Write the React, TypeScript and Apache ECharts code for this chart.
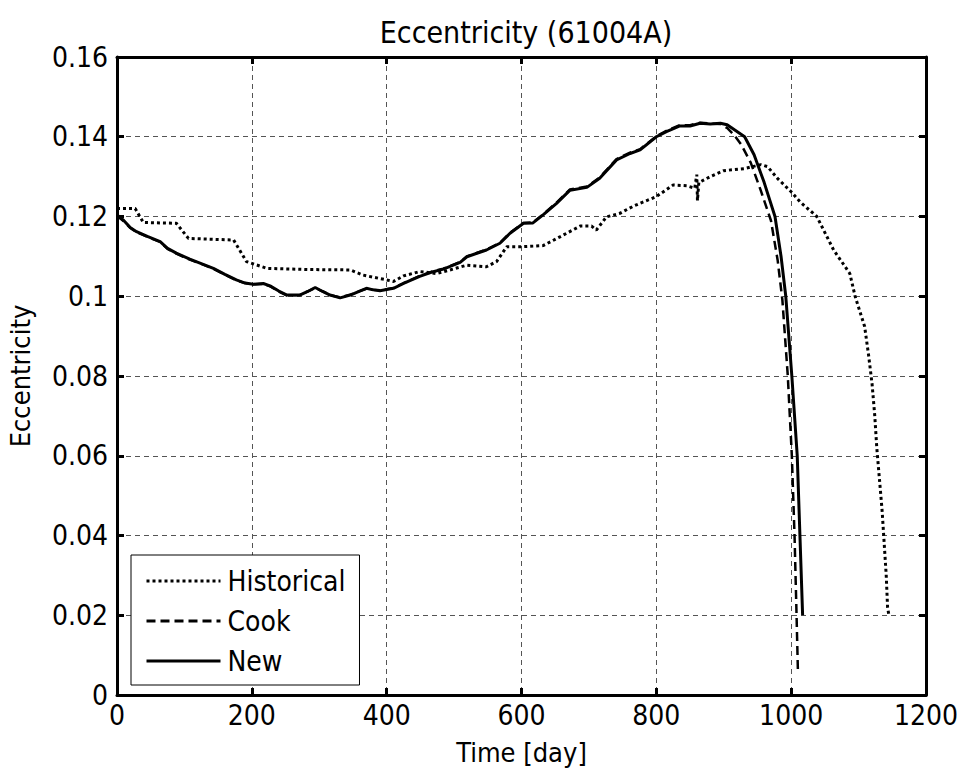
import React, { useEffect, useRef } from "react";
import * as echarts from "echarts";

const xTicks = [0, 200, 400, 600, 800, 1000, 1200];
const yTicks = [0, 0.02, 0.04, 0.06, 0.08, 0.1, 0.12, 0.14, 0.16];

const historicalDays = [0, 27, 39, 88, 106, 173, 192, 222, 286, 346, 365, 400, 410, 425, 449, 474, 494, 519, 548, 563, 578, 598, 632, 657, 687, 704, 711, 726, 746, 766, 800, 825, 845, 857, 860, 861, 863, 880, 900, 930, 955, 965, 980, 1000, 1013, 1038, 1063, 1087, 1095, 1109, 1115, 1120, 1124, 1127, 1131, 1135, 1138, 1141, 1143, 1145];
const historicalEcc = [0.122, 0.122, 0.1185, 0.1183, 0.1145, 0.1141, 0.1087, 0.107, 0.1067, 0.1066, 0.1053, 0.1041, 0.1037, 0.1051, 0.1062, 0.1057, 0.1066, 0.1078, 0.1074, 0.1087, 0.1124, 0.1124, 0.1127, 0.1149, 0.1176, 0.1176, 0.1166, 0.1199, 0.1208, 0.1226, 0.125, 0.1279, 0.1277, 0.1271, 0.1305, 0.124, 0.1285, 0.13, 0.1315, 0.132, 0.133, 0.1325, 0.1295, 0.1262, 0.1237, 0.12, 0.1116, 0.1057, 0.0999, 0.0924, 0.085, 0.078, 0.07, 0.062, 0.054, 0.046, 0.038, 0.03, 0.022, 0.02];

const cookDays = [0, 10, 20, 29, 45, 64, 75, 88, 108, 125, 143, 160, 177, 190, 202, 217, 227, 240, 252, 271, 283, 294, 305, 316, 331, 346, 360, 370, 380, 390, 410, 425, 449, 466, 484, 509, 519, 548, 568, 583, 603, 617, 632, 652, 672, 697, 716, 741, 761, 776, 800, 815, 835, 850, 865, 880, 895, 905, 915, 926, 940, 955, 970, 980, 987, 995, 1001, 1005, 1008, 1010];
const cookEcc = [0.1202, 0.1188, 0.1171, 0.1161, 0.1149, 0.1136, 0.1119, 0.1107, 0.1092, 0.1081, 0.1069, 0.1054, 0.104, 0.1033, 0.103, 0.1031, 0.1025, 0.1012, 0.1002, 0.1003, 0.1012, 0.1021, 0.1012, 0.1003, 0.0997, 0.1004, 0.1013, 0.1019, 0.1016, 0.1015, 0.1021, 0.1033, 0.1051, 0.1061, 0.1069, 0.1086, 0.11, 0.1117, 0.1134, 0.1159, 0.1184, 0.1185, 0.1205, 0.1235, 0.1268, 0.1275, 0.1298, 0.1344, 0.136, 0.1369, 0.1401, 0.1415, 0.1429, 0.1429, 0.1435, 0.1433, 0.1432, 0.1422, 0.1405, 0.138, 0.1335, 0.1265, 0.119, 0.109, 0.099, 0.08, 0.06, 0.04, 0.02, 0.006];

const newDays = [0, 10, 20, 29, 45, 64, 75, 88, 108, 125, 143, 160, 177, 190, 202, 217, 227, 240, 252, 271, 283, 294, 305, 316, 331, 346, 360, 370, 380, 390, 410, 425, 449, 466, 484, 509, 519, 548, 568, 583, 603, 617, 632, 652, 672, 697, 716, 741, 761, 776, 800, 815, 835, 850, 865, 880, 895, 905, 918, 931, 945, 960, 976, 985, 992, 1001, 1009, 1013, 1017];
const newEcc = [0.1204, 0.119, 0.1172, 0.1162, 0.115, 0.1137, 0.112, 0.1108, 0.1093, 0.1082, 0.107, 0.1055, 0.1041, 0.1033, 0.103, 0.1032, 0.1026, 0.1013, 0.1003, 0.1003, 0.1012, 0.1022, 0.1012, 0.1003, 0.0996, 0.1003, 0.1013, 0.102, 0.1016, 0.1014, 0.102, 0.1032, 0.105, 0.106, 0.1068, 0.1085, 0.1099, 0.1116, 0.1133, 0.1158, 0.1183, 0.1184, 0.1204, 0.1233, 0.1266, 0.1273, 0.1296, 0.1342, 0.1358, 0.1367, 0.14, 0.1413, 0.1427, 0.1427, 0.1434, 0.1432, 0.1434, 0.143, 0.1415, 0.14, 0.1355, 0.1285, 0.12, 0.11, 0.1, 0.08, 0.06, 0.04, 0.02];

const FONT = "'DejaVu Sans Condensed', 'Liberation Sans Narrow', 'DejaVu Sans', sans-serif";

const pairs = (xs: number[], ys: number[]) => xs.map((x, i) => [x, ys[i]]);

export default function App() {
  const ref = useRef<HTMLDivElement>(null);
  useEffect(() => {
    document.body.style.margin = "0";
    const chart = echarts.init(ref.current!, null, { renderer: "svg" });
    const gridLine = { show: true, lineStyle: { color: "#555", width: 1, type: [5, 4] as any } };
    const baseX = {
      type: "value" as const,
      min: xTicks[0],
      max: xTicks[xTicks.length - 1],
      interval: 200,
      axisLine: { show: true, onZero: false, lineStyle: { color: "#000", width: 3 } },
      axisTick: { show: true, inside: true, length: 7, lineStyle: { color: "#000", width: 3 } },
    };
    const baseY = {
      type: "value" as const,
      min: yTicks[0],
      max: yTicks[yTicks.length - 1],
      interval: 0.02,
      axisLine: { show: true, onZero: false, lineStyle: { color: "#000", width: 3 } },
      axisTick: { show: true, inside: true, length: 7, lineStyle: { color: "#000", width: 3 } },
    };
    const lineSeries = (name: string, data: number[][], type: any, width: number) => ({
      name,
      type: "line",
      data,
      showSymbol: false,
      symbol: "none",
      xAxisIndex: 0,
      yAxisIndex: 0,
      lineStyle: { color: "#000", width, type },
      itemStyle: { color: "#000" },
      z: 3,
    });
    chart.setOption({
      animation: false,
      backgroundColor: "#fff",
      textStyle: { fontFamily: FONT },
      title: {
        text: "Eccentricity (61004A)",
        left: 521,
        textAlign: "center",
        top: 12,
        textStyle: { fontFamily: FONT, fontSize: 30, fontWeight: "normal", color: "#000" },
      },
      grid: { left: 117, right: 39, top: 57, bottom: 81, containLabel: false, outerBoundsMode: "none" },
      xAxis: [
        {
          ...baseX,
          position: "bottom",
          name: "Time [day]",
          nameLocation: "middle",
          nameGap: 44,
          nameTextStyle: { fontFamily: FONT, fontSize: 27, color: "#000" },
          axisLabel: {
            show: true,
            fontFamily: FONT,
            fontSize: 28,
            color: "#000",
            margin: 6,
            formatter: (v: number) => String(v),
          },
          splitLine: gridLine,
        },
        {
          ...baseX,
          position: "top",
          axisLabel: { show: false },
          splitLine: { show: false },
        },
      ],
      yAxis: [
        {
          ...baseY,
          position: "left",
          name: "Eccentricity",
          nameLocation: "middle",
          nameGap: 83,
          nameTextStyle: { fontFamily: FONT, fontSize: 27, color: "#000" },
          axisLabel: {
            show: true,
            fontFamily: FONT,
            fontSize: 28,
            color: "#000",
            margin: 9,
            formatter: (v: number) => String(Math.round(v * 100) / 100),
          },
          splitLine: gridLine,
        },
        {
          ...baseY,
          position: "right",
          axisLabel: { show: false },
          splitLine: { show: false },
        },
      ],
      legend: {
        show: true,
        orient: "vertical",
        left: 131,
        top: 555,
        backgroundColor: "#fff",
        borderColor: "#000",
        borderWidth: 1,
        borderRadius: 0,
        padding: [12, 14, 10, 14],
        itemGap: 12,
        itemWidth: 74,
        itemHeight: 28,
        itemStyle: { opacity: 0 },
        lineStyle: { width: 3 },
        textStyle: { fontFamily: FONT, fontSize: 28, color: "#000", padding: [0, 0, 0, 2] },
        data: ["Historical", "Cook", "New"],
        selectedMode: false,
      },
      series: [
        lineSeries("Historical", pairs(historicalDays, historicalEcc), [3, 3], 3),
        lineSeries("Cook", pairs(cookDays, cookEcc), [9, 5], 2.5),
        lineSeries("New", pairs(newDays, newEcc), "solid", 3),
      ],
    });
    return () => chart.dispose();
  }, []);
  return <div ref={ref} style={{ width: 965, height: 776 }} />;
}
